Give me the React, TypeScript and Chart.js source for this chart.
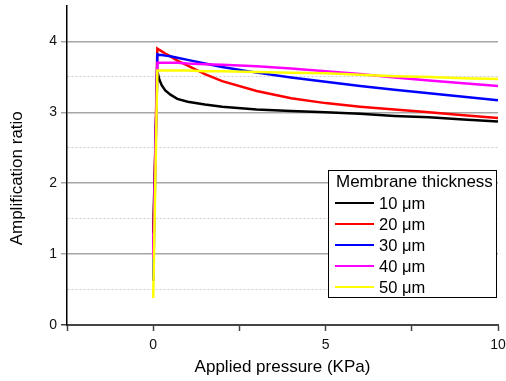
import React, { useEffect, useRef } from 'react';
import { Chart, registerables } from 'chart.js';

Chart.register(...registerables);

// ---- Data ----
const pressure = [0, 0.12, 0.18, 0.25, 0.35, 0.5, 0.7, 1, 1.5, 2, 3, 4, 5, 6, 7, 8, 9, 10];
const seriesLabels = ['10 μm', '20 μm', '30 μm', '40 μm', '50 μm'];
const seriesColors = ['#000000', '#ff0000', '#0000ff', '#ff00ff', '#ffff00'];
const ratio10 = [1.3, 3.58, 3.46, 3.38, 3.31, 3.25, 3.19, 3.15, 3.11, 3.08, 3.04, 3.02, 3.0, 2.98, 2.95, 2.93, 2.9, 2.87];
const ratio20 = [1.0, 3.9, 3.88, 3.86, 3.83, 3.79, 3.73, 3.66, 3.54, 3.44, 3.3, 3.2, 3.13, 3.08, 3.04, 3.0, 2.96, 2.92];
const ratio30 = [0.62, 3.82, 3.81, 3.81, 3.8, 3.79, 3.77, 3.74, 3.69, 3.64, 3.56, 3.49, 3.43, 3.37, 3.32, 3.27, 3.22, 3.17];
const ratio40 = [0.95, 3.7, 3.7, 3.7, 3.7, 3.7, 3.7, 3.69, 3.68, 3.67, 3.65, 3.62, 3.58, 3.54, 3.49, 3.45, 3.41, 3.37];
const ratio50 = [0.38, 3.59, 3.59, 3.59, 3.59, 3.59, 3.59, 3.59, 3.58, 3.58, 3.57, 3.56, 3.55, 3.53, 3.51, 3.5, 3.48, 3.47];
const seriesValues = [ratio10, ratio20, ratio30, ratio40, ratio50];
const xTickLabels = [0, 5, 10];
const yTickLabels = [0, 1, 2, 3, 4];
const legendTitle = 'Membrane thickness';
const xTitle = 'Applied pressure (KPa)';
const yTitle = 'Amplification ratio';

const FONT = '"Liberation Sans", Arial, sans-serif';

const boxLegend = {
  id: 'boxLegend',
  afterDatasetsDraw(chart: any) {
    const { ctx, chartArea } = chart;
    const right = chartArea.right - 1.5;
    const bottom = chartArea.bottom - 27.5;
    const w = 168;
    const h = 127;
    const left = right - w;
    const top = bottom - h;
    ctx.save();
    ctx.fillStyle = '#ffffff';
    ctx.fillRect(left, top, w, h);
    ctx.strokeStyle = '#000000';
    ctx.lineWidth = 1;
    ctx.strokeRect(left, top, w, h);
    ctx.fillStyle = '#000000';
    ctx.textBaseline = 'middle';
    ctx.textAlign = 'left';
    ctx.font = `17px ${FONT}`;
    ctx.fillText(legendTitle, left + 7.5, top + 12);
    ctx.font = `16.5px ${FONT}`;
    chart.data.datasets.forEach((ds: any, i: number) => {
      const y = top + 32.5 + i * 21;
      ctx.strokeStyle = ds.borderColor;
      ctx.lineWidth = 2;
      ctx.beginPath();
      ctx.moveTo(left + 6.5, y);
      ctx.lineTo(left + 45.5, y);
      ctx.stroke();
      ctx.fillStyle = '#000000';
      ctx.fillText(ds.label, left + 50.5, y + 1);
    });
    ctx.restore();
  },
};

const yAxisTitle = {
  id: 'yAxisTitle',
  afterDraw(chart: any) {
    const { ctx, chartArea } = chart;
    const cy = chartArea.top + (chartArea.bottom - chartArea.top) * 0.54;
    ctx.save();
    ctx.translate(17, cy);
    ctx.rotate(-Math.PI / 2);
    ctx.font = `17px ${FONT}`;
    ctx.fillStyle = '#000';
    ctx.textAlign = 'center';
    ctx.textBaseline = 'middle';
    ctx.fillText(yTitle, 0, 0);
    ctx.restore();
  },
};

export default function App() {
  const ref = useRef<HTMLCanvasElement | null>(null);

  useEffect(() => {
    if (!ref.current) return;
    Chart.defaults.font.family = FONT;
    const chart = new Chart(ref.current, {
      type: 'line',
      data: {
        datasets: seriesValues.map((vals, i) => ({
          label: seriesLabels[i],
          data: pressure.map((x, j) => ({ x, y: vals[j] })),
          borderColor: seriesColors[i],
          backgroundColor: seriesColors[i],
          borderWidth: 2.5,
          pointRadius: 0,
          tension: 0,
          fill: false,
          order: seriesValues.length - i,
        })),
      },
      options: {
        animation: false,
        responsive: false,
        layout: { padding: { top: 6, right: 8, left: 0, bottom: 0 } },
        plugins: {
          legend: { display: false },
          tooltip: { enabled: false },
        },
        scales: {
          x: {
            type: 'linear',
            min: -2.5,
            max: 10,
            afterFit: (s: any) => {
              s.height = 56;
              s.paddingLeft = 0;
              s.paddingRight = 0;
            },
            ticks: {
              stepSize: 2.5,
              autoSkip: false,
              maxRotation: 0,
              padding: 6,
              color: '#111',
              font: { size: 14, family: FONT },
              callback: (v: any) => (xTickLabels.includes(Number(v)) ? String(v) : ''),
            },
            grid: {
              drawOnChartArea: false,
              drawTicks: true,
              tickLength: 6,
              tickColor: '#444',
              tickWidth: 1.5,
            },
            border: { display: true, color: '#444', width: 2 },
            title: {
              display: true,
              text: xTitle,
              color: '#000',
              font: { size: 17, family: FONT },
              padding: { top: 0, bottom: 3.5 },
            },
          },
          y: {
            type: 'linear',
            min: 0,
            max: 4.5,
            afterFit: (s: any) => {
              s.width = 67;
              s.paddingTop = 0;
              s.paddingBottom = 0;
            },
            ticks: {
              stepSize: 0.5,
              autoSkip: false,
              padding: 4,
              color: '#111',
              font: { size: 14, family: FONT },
              callback: (v: any) => (yTickLabels.includes(Number(v)) ? String(v) : ''),
            },
            grid: {
              drawTicks: true,
              tickLength: 6,
              lineWidth: (c: any) => {
                const v = c.tick ? c.tick.value : 0;
                return Number.isInteger(v) ? 1.5 : 1;
              },
              color: (c: any) => {
                const v = c.tick ? c.tick.value : 0;
                if (v === 0 || v === 4.5) return 'rgba(0,0,0,0)';
                return Number.isInteger(v) ? '#a6a6a6' : '#cccccc';
              },
              tickColor: (c: any) => {
                const v = c.tick ? c.tick.value : 0;
                if (v === 0) return '#444';
                return Number.isInteger(v) ? '#a6a6a6' : 'rgba(0,0,0,0)';
              },
            },
            border: {
              display: true,
              color: '#000',
              width: 1.5,
              dash: (c: any) => (c.tick && !Number.isInteger(c.tick.value) ? [2, 2] : []),
            },
            title: { display: false },
          },
        },
      },
      plugins: [boxLegend, yAxisTitle],
    } as any);
    return () => chart.destroy();
  }, []);

  return (
    <div style={{ position: 'fixed', left: 0, top: 0, width: 506, height: 381, background: '#fff' }}>
      <canvas ref={ref} width={506} height={381} />
    </div>
  );
}
